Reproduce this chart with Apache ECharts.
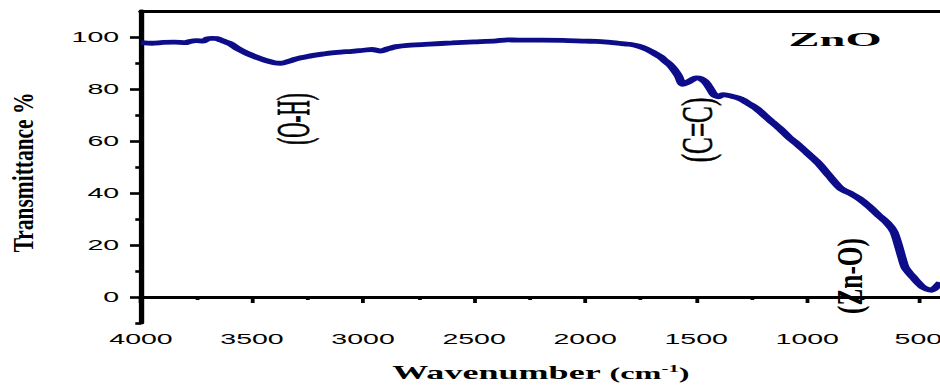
<!DOCTYPE html>
<html>
<head>
<meta charset="utf-8">
<script src="https://cdn.jsdelivr.net/npm/echarts@6/dist/echarts.min.js"></script>
<style>
  html, body { margin: 0; padding: 0; background: #fff; overflow: hidden; }
  /* the figure is laid out narrow and widened horizontally, like the printed plot */
  #chart { width: 494.737px; height: 385px; transform: scaleX(1.9); transform-origin: 0 0; }
</style>
</head>
<body>
<div id="chart"></div>
<script>
// FTIR spectrum of ZnO: wavenumber (cm-1) vs transmittance (%)
const wavenumbers = [
  4000, 3950, 3900, 3850, 3800, 3780, 3750, 3720, 3700, 3680, 3660, 3640, 3600, 3560, 3520,
  3480, 3440, 3400, 3370, 3340, 3300, 3250, 3200, 3150, 3100, 3050, 3000, 2960, 2920, 2890,
  2850, 2800, 2700, 2600, 2500, 2400, 2350, 2300, 2200, 2100, 2000, 1950, 1900, 1850, 1800,
  1760, 1720, 1690, 1660, 1640, 1620, 1600, 1580, 1560, 1540, 1520, 1500, 1480, 1460, 1440,
  1420, 1400, 1380, 1360, 1330, 1300, 1260, 1230, 1200, 1160, 1120, 1080, 1040, 1000, 950,
  900, 850, 800, 765, 720, 680, 640, 610, 590, 575, 560, 540, 520, 500, 480,
  460, 440, 420, 400
];
const transmittance = [
  97.8, 97.6, 97.9, 98.0, 97.8, 98.3, 98.6, 98.4, 99.3, 99.5, 99.4, 98.8, 97.5, 95.3, 93.6,
  92.2, 91.0, 90.1, 89.9, 90.5, 91.6, 92.5, 93.2, 93.8, 94.2, 94.5, 94.9, 95.2, 94.6, 95.4,
  96.3, 96.8, 97.3, 97.7, 98.1, 98.5, 98.9, 98.8, 98.8, 98.7, 98.4, 98.3, 98.0, 97.6, 97.2,
  96.5, 95.2, 93.8, 92.3, 90.8, 89.5, 87.5, 85.0, 81.8, 82.5, 83.5, 84.3, 84.0, 82.8, 80.5,
  77.8, 77.0, 77.8, 77.6, 77.0, 76.2, 74.2, 72.6, 70.4, 67.4, 64.5, 61.2, 58.5, 55.4, 51.5,
  46.5, 41.8, 39.6, 37.8, 34.7, 31.5, 28.5, 25.1, 20.0, 15.5, 11.5, 9.2, 7.3, 5.4, 3.8,
  3.0, 2.6, 3.8, 5.6
];

// axis ticks and labels
const xMajorTicks = [4000, 3500, 3000, 2500, 2000, 1500, 1000, 500];
const xMinorTicks = [3750, 3250, 2750, 2250, 1750, 1250, 750];
const yMajorTicks = [0, 20, 40, 60, 80, 100];
const yMinorTicks = [-10, 10, 30, 50, 70, 90];

// peak assignments
const bandLabels = ['(O-H)', '(C=C)', '(Zn-O)'];
const sampleName = 'ZnO';
const xTitle = 'Wavenumber';
const yTitle = 'Transmittance %';

const X_MIN = 400, X_MAX = 4000, Y_MIN = -10, Y_MAX = 110;
const tickFont = { fontFamily: 'Liberation Sans', fontSize: 15, color: '#000', formatter: v => String(v) };
const serif = 'Liberation Serif';

const chart = echarts.init(document.getElementById('chart'), null, { renderer: 'svg' });

const xBase = { type: 'value', min: X_MIN, max: X_MAX, inverse: true, splitLine: { show: false } };
const yBase = { type: 'value', min: Y_MIN, max: Y_MAX, splitLine: { show: false } };

chart.setOption({
  animation: false,
  backgroundColor: '#fff',
  grid: { left: 74.2, right: 0, top: 11, bottom: 62, containLabel: false, outerBoundsMode: 'none' },
  xAxis: [
    Object.assign({}, xBase, {
      position: 'bottom',
      axisLine: { show: true, lineStyle: { color: '#000', width: 3 } },
      axisTick: { show: true, customValues: xMajorTicks, length: 6, lineStyle: { color: '#000', width: 2 } },
      axisLabel: { show: true, customValues: xMajorTicks, margin: 8, hideOverlap: false, ...tickFont },
      name: '{b|' + xTitle + ' }{p|(cm}{s|-1}{p|)}',
      nameLocation: 'middle',
      nameGap: 40,
      nameTextStyle: {
        rich: {
          b: { fontFamily: serif, fontWeight: 'bold', fontSize: 19, color: '#000' },
          p: { fontFamily: serif, fontWeight: 'bold', fontSize: 17, color: '#000', padding: [2, 0, 0, 0] },
          s: { fontFamily: serif, fontWeight: 'bold', fontSize: 11, color: '#000', verticalAlign: 'top', padding: [0, 0, 8, 0] }
        }
      }
    }),
    Object.assign({}, xBase, {
      position: 'bottom',
      axisLine: { show: false },
      axisTick: { show: true, customValues: xMinorTicks, length: 3, lineStyle: { color: '#000', width: 2 } },
      axisLabel: { show: false }
    }),
    Object.assign({}, xBase, {
      position: 'top',
      axisLine: { show: true, lineStyle: { color: '#000', width: 3 } },
      axisTick: { show: false },
      axisLabel: { show: false }
    })
  ],
  yAxis: [
    Object.assign({}, yBase, {
      position: 'left',
      axisLine: { show: true, lineStyle: { color: '#000', width: 2.8 } },
      axisTick: { show: true, customValues: yMajorTicks, length: 5.8, lineStyle: { color: '#000', width: 2.6 } },
      axisLabel: { show: true, customValues: yMajorTicks, margin: 11.5, ...tickFont }
    }),
    Object.assign({}, yBase, {
      position: 'left',
      axisLine: { show: false },
      axisTick: { show: true, customValues: yMinorTicks, length: 3, lineStyle: { color: '#000', width: 2.6 } },
      axisLabel: { show: false }
    })
  ],
  series: [{
    type: 'line',
    xAxisIndex: 0,
    yAxisIndex: 0,
    data: wavenumbers.map((w, i) => [w, transmittance[i]]),
    showSymbol: false,
    smooth: 0.25,
    clip: true,
    lineStyle: { color: '#0d0d8a', width: 4.8 },
    z: 1
  }],
  graphic: [
    { type: 'text', x: 12.4, y: 172.5, rotation: Math.PI / 2, scaleX: 1.34,
      style: { text: yTitle, font: 'bold 16px "Liberation Serif"', fill: '#000', align: 'center', verticalAlign: 'middle' } },
    { type: 'text', x: 439.5, y: 40, scaleX: 1.36, scaleY: 1.05,
      style: { text: sampleName, font: 'bold 18px "Liberation Serif"', fill: '#000', align: 'center', verticalAlign: 'middle' } },
    { type: 'text', x: 154.7, y: 119, rotation: Math.PI / 2, scaleY: 1.15,
      style: { text: bandLabels[0], font: '21px "Liberation Serif"', fill: '#000', stroke: '#000', lineWidth: 0.4, align: 'center', verticalAlign: 'middle' } },
    { type: 'text', x: 366.8, y: 130, rotation: Math.PI / 2, scaleX: 1.2, scaleY: 1.12,
      style: { text: bandLabels[1], font: '21px "Liberation Serif"', fill: '#000', stroke: '#000', lineWidth: 0.3, align: 'center', verticalAlign: 'middle' } },
    { type: 'text', x: 447.4, y: 276, rotation: Math.PI / 2, scaleX: 1.33,
      style: { text: bandLabels[2], font: 'bold 19px "Liberation Serif"', fill: '#000', align: 'center', verticalAlign: 'middle' } }
  ]
});
</script>
</body>
</html>
